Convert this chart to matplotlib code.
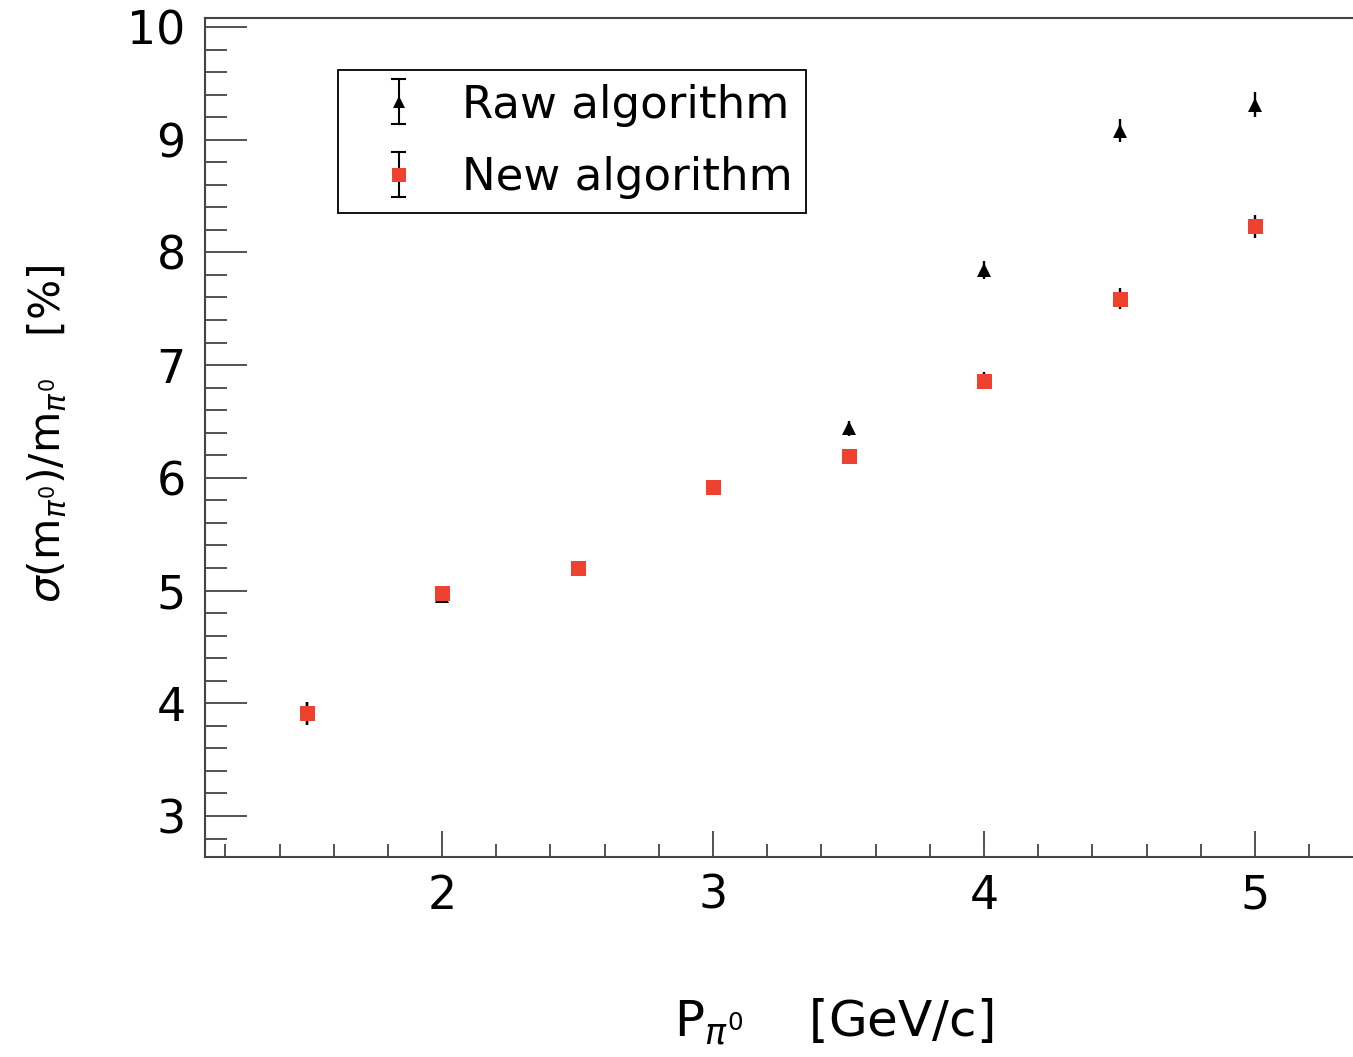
import matplotlib
matplotlib.use("Agg")
import matplotlib.pyplot as plt
from matplotlib.ticker import MultipleLocator
from matplotlib.legend_handler import HandlerBase
from matplotlib.lines import Line2D

# ---- data ----
p_values = [1.5, 2.0, 2.5, 3.0, 3.5, 4.0, 4.5, 5.0]
raw_res = [3.91, 4.95, 5.19, 5.91, 6.44, 7.845, 9.08, 9.31]
raw_err = [0.10, 0.03, 0.03, 0.03, 0.067, 0.08, 0.10, 0.11]
new_res = [3.91, 4.98, 5.20, 5.92, 6.19, 6.86, 7.59, 8.23]
new_err = [0.10, 0.03, 0.03, 0.03, 0.05, 0.075, 0.09, 0.10]
series_labels = ["Raw algorithm", "New algorithm"]
x_ticks = [2, 3, 4, 5]
y_ticks = [3, 4, 5, 6, 7, 8, 9, 10]

W, H = 1353, 1057
plt.rcParams['font.family'] = ['DejaVu Sans']
plt.rcParams['mathtext.fontset'] = 'dejavusans'


class HandlerErrCap(HandlerBase):
    def __init__(self, marker, color, ms, half=0.5, cap_pt=4.7, **kw):
        super().__init__(**kw)
        self.marker, self.color, self.ms = marker, color, ms
        self.half, self.cap_pt = half, cap_pt

    def create_artists(self, legend, orig_handle, xdescent, ydescent, width, height, fontsize, trans):
        xc = -xdescent + width / 2
        yc = -ydescent + height / 2
        h = self.half * fontsize
        c = self.cap_pt
        arts = [
            Line2D([xc, xc], [yc - h, yc + h], color='black', lw=1.5, transform=trans),
            Line2D([xc - c, xc + c], [yc + h, yc + h], color='black', lw=1.5, transform=trans),
            Line2D([xc - c, xc + c], [yc - h, yc - h], color='black', lw=1.5, transform=trans),
            Line2D([xc], [yc], marker=self.marker, ms=self.ms, color=self.color, mew=0,
                   linestyle='none', transform=trans),
        ]
        return arts


fig = plt.figure(figsize=(W / 100, H / 100), dpi=100)
left, right, top, bottom = 205, 1356.6, 17.5, 857
ax = fig.add_axes([left / W, 1 - bottom / H, (right - left) / W, (bottom - top) / H])
ax.set_xlim(1.125, 5.375)
ax.set_ylim(2.636, 10.084)

red = '#ee4130'
e1 = ax.errorbar(p_values, raw_res, yerr=raw_err, fmt='^', color='black', ms=10,
                 mew=0, elinewidth=1.7, capsize=4.7, capthick=2.2, label=series_labels[0])
e2 = ax.errorbar(p_values, new_res, yerr=new_err, fmt='s', color=red, ecolor='black', ms=10.8,
                 mew=0, elinewidth=1.7, capsize=4.7, capthick=2.2, label=series_labels[1])

ax.set_xticks(x_ticks)
ax.set_yticks(y_ticks)
ax.xaxis.set_minor_locator(MultipleLocator(0.2))
ax.yaxis.set_minor_locator(MultipleLocator(0.2))
spine_c = '#444444'
for s in ['left', 'bottom', 'top']:
    ax.spines[s].set_color(spine_c)
    ax.spines[s].set_linewidth(1.5)
ax.spines['right'].set_visible(False)
ax.tick_params(axis='both', which='both', direction='in', colors=spine_c, labelcolor='black', width=1.3)
ax.tick_params(axis='y', which='major', length=30, labelsize=33, pad=14)
ax.tick_params(axis='y', which='minor', length=16)
ax.tick_params(axis='x', which='major', length=19, labelsize=33, pad=12)
ax.tick_params(axis='x', which='minor', length=9.5)
ax.tick_params(top=False, right=False, which='both')

leg = ax.legend(handles=[e1, e2], labels=series_labels, loc='upper left',
                bbox_to_anchor=(338 / W, 1 - 70 / H),
                bbox_transform=fig.transFigure, borderaxespad=0, fancybox=False,
                edgecolor='black', framealpha=1, fontsize=32.5, borderpad=0.3,
                handlelength=2.1, handletextpad=0.35, labelspacing=0.66,
                handler_map={e1: HandlerErrCap('^', 'black', 9),
                             e2: HandlerErrCap('s', red, 10)})
leg.get_frame().set_linewidth(1.3)

fig.text(48 / W, 1 - 434 / H, r'$\sigma(\mathrm{m}_{\pi^0})/\mathrm{m}_{\pi^0}$   [%]',
         rotation=90, ha='center', va='center', fontsize=30.5)
fig.text(993 / W, 1 - 1022 / H, r'$\mathrm{P}_{\pi^0}$    [GeV/c]', ha='right', va='center', fontsize=36)

fig.savefig('out.png', dpi=100)
